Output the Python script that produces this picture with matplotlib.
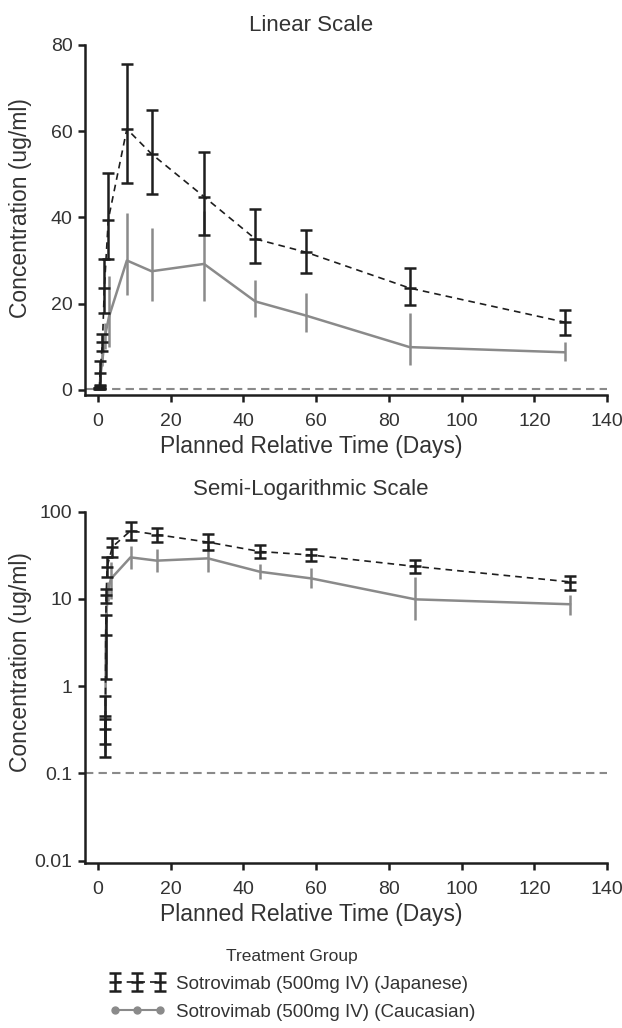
import numpy as np
import matplotlib
matplotlib.use('Agg')
import matplotlib.pyplot as plt
from matplotlib.lines import Line2D
from matplotlib.ticker import FixedLocator, FuncFormatter, NullLocator

plt.rcParams['font.family'] = ['Liberation Sans', 'DejaVu Sans']

# Japanese group (mean with lower/upper error ends)
jp_days_lin = [0.3, 0.5, 0.6, 1.3, 1.8, 2.9, 8.0, 14.8, 29.2, 43.3, 57.3, 85.7, 128.3]
jp_days_log = [2.0, 2.1, 2.2, 2.3, 2.6, 4.0, 9.0, 16.2, 30.3, 44.6, 58.7, 87.3, 129.8]
jp_mean = [0.32, 0.46, 3.9, 11.0, 23.5, 39.5, 60.5, 54.7, 44.8, 35.0, 31.9, 23.6, 15.7]
jp_lo = [0.22, 0.154, 1.2, 9.0, 17.8, 30.3, 48.0, 45.5, 36.0, 29.4, 27.2, 19.7, 12.8]
jp_hi = [0.42, 0.78, 6.6, 13.0, 30.3, 50.3, 75.5, 65.0, 55.2, 42.0, 37.1, 28.2, 18.4]

# Caucasian group
ca_days_lin = [0.5, 0.7, 1.3, 2.0, 3.1, 8.0, 14.8, 29.2, 43.3, 57.3, 85.7, 128.3]
ca_days_log = [2.1, 2.2, 2.4, 2.8, 3.6, 9.0, 16.2, 30.3, 44.6, 58.7, 87.3, 129.8]
ca_mean = [0.18, 3.0, 7.0, 12.5, 17.0, 30.0, 27.5, 29.2, 20.5, 17.2, 9.9, 8.7]
ca_lo = [0.16, 1.8, 5.5, 9.5, 10.0, 22.0, 20.5, 20.6, 16.8, 13.3, 5.8, 6.6]
ca_hi = [0.20, 4.2, 8.5, 15.5, 26.5, 41.0, 37.5, 41.5, 25.4, 22.4, 17.8, 11.1]

lloq = 0.1
xticks = [0, 20, 40, 60, 80, 100, 120, 140]
lin_yticks = [0, 20, 40, 60, 80]
log_yticks = [0.01, 0.1, 1, 10, 100]
log_ylabels = ['0.01', '0.1', '1', '10', '100']

jp_label = 'Sotrovimab (500mg IV) (Japanese)'
ca_label = 'Sotrovimab (500mg IV) (Caucasian)'

BLACK = '#1e1e1e'
GRAY = '#8a8a8a'
TXT = '#333333'


def draw_panel(ax, jp_x, ca_x, ylab_y):
    ca_m = np.array(ca_mean)
    ca_err = [ca_m - np.array(ca_lo), np.array(ca_hi) - ca_m]
    ax.errorbar(ca_x, ca_mean, yerr=ca_err, color=GRAY, lw=1.8, elinewidth=1.8,
                capsize=0, ls='-', zorder=2)
    jp_m = np.array(jp_mean)
    jp_err = [jp_m - np.array(jp_lo), np.array(jp_hi) - jp_m]
    cont = ax.errorbar(jp_x, jp_mean, yerr=jp_err, color=BLACK, lw=1.2, elinewidth=1.8,
                       capsize=4, capthick=1.8, marker='_', ms=8, mew=1.8,
                       ls=(0, (4, 3)), zorder=3)
    ax.axhline(lloq, color=GRAY, lw=1.5, ls=(0, (4, 2.5)), zorder=1)
    for s in ['top', 'right']:
        ax.spines[s].set_visible(False)
    for s in ['left', 'bottom']:
        ax.spines[s].set_linewidth(1.8)
        ax.spines[s].set_color(BLACK)
    ax.set_xlim(-3.5, 140)
    ax.xaxis.set_major_locator(FixedLocator(xticks))
    ax.tick_params(axis='both', length=5, width=1.8, color=BLACK,
                   labelsize=14, labelcolor=TXT, pad=4)
    ax.tick_params(axis='x', pad=8)
    ax.set_xlabel('Planned Relative Time (Days)', fontsize=16.5, color=TXT)
    ax.set_ylabel('Concentration (ug/ml)', fontsize=16.5, color=TXT)
    # labels are centred on the figure rather than the axes
    ax.xaxis.set_label_coords(0.433, -0.114)
    ax.yaxis.set_label_coords(-0.102, ylab_y)
    return cont


fig = plt.figure(figsize=(6.22, 10.28), dpi=100)

ax1 = fig.add_axes([0.1367, 0.6158, 0.8393, 0.3405])
jp_cont = draw_panel(ax1, jp_days_lin, ca_days_lin, 0.534)
ax1.set_ylim(-1.2, 80)
ax1.yaxis.set_major_locator(FixedLocator(lin_yticks))
ax1.set_title('Linear Scale', fontsize=16, color=TXT, x=0.433, pad=10)

ax2 = fig.add_axes([0.1367, 0.1605, 0.8393, 0.3417])
draw_panel(ax2, jp_days_log, ca_days_log, 0.573)
ax2.set_yscale('log')
ax2.set_ylim(0.0094, 100)
ax2.yaxis.set_major_locator(FixedLocator(log_yticks))
ax2.yaxis.set_major_formatter(FuncFormatter(lambda v, p: log_ylabels[log_yticks.index(v)] if v in log_yticks else ''))
ax2.yaxis.set_minor_locator(NullLocator())
ax2.set_title('Semi-Logarithmic Scale', fontsize=16, color=TXT, x=0.433, pad=12)

ca_handle = Line2D([], [], color=GRAY, lw=1.5, marker='o', ms=5)
leg = fig.legend([jp_cont, ca_handle], [jp_label, ca_label], loc='upper center',
                 bbox_to_anchor=(0.47, 0.093), frameon=False, numpoints=3,
                 handlelength=3.0, fontsize=13.5, title='Treatment Group',
                 title_fontsize=12.5, labelspacing=0.6, handletextpad=0.6)
for t in leg.get_texts():
    t.set_color(TXT)
leg.get_title().set_color(TXT)

fig.savefig('out.png', dpi=100)
